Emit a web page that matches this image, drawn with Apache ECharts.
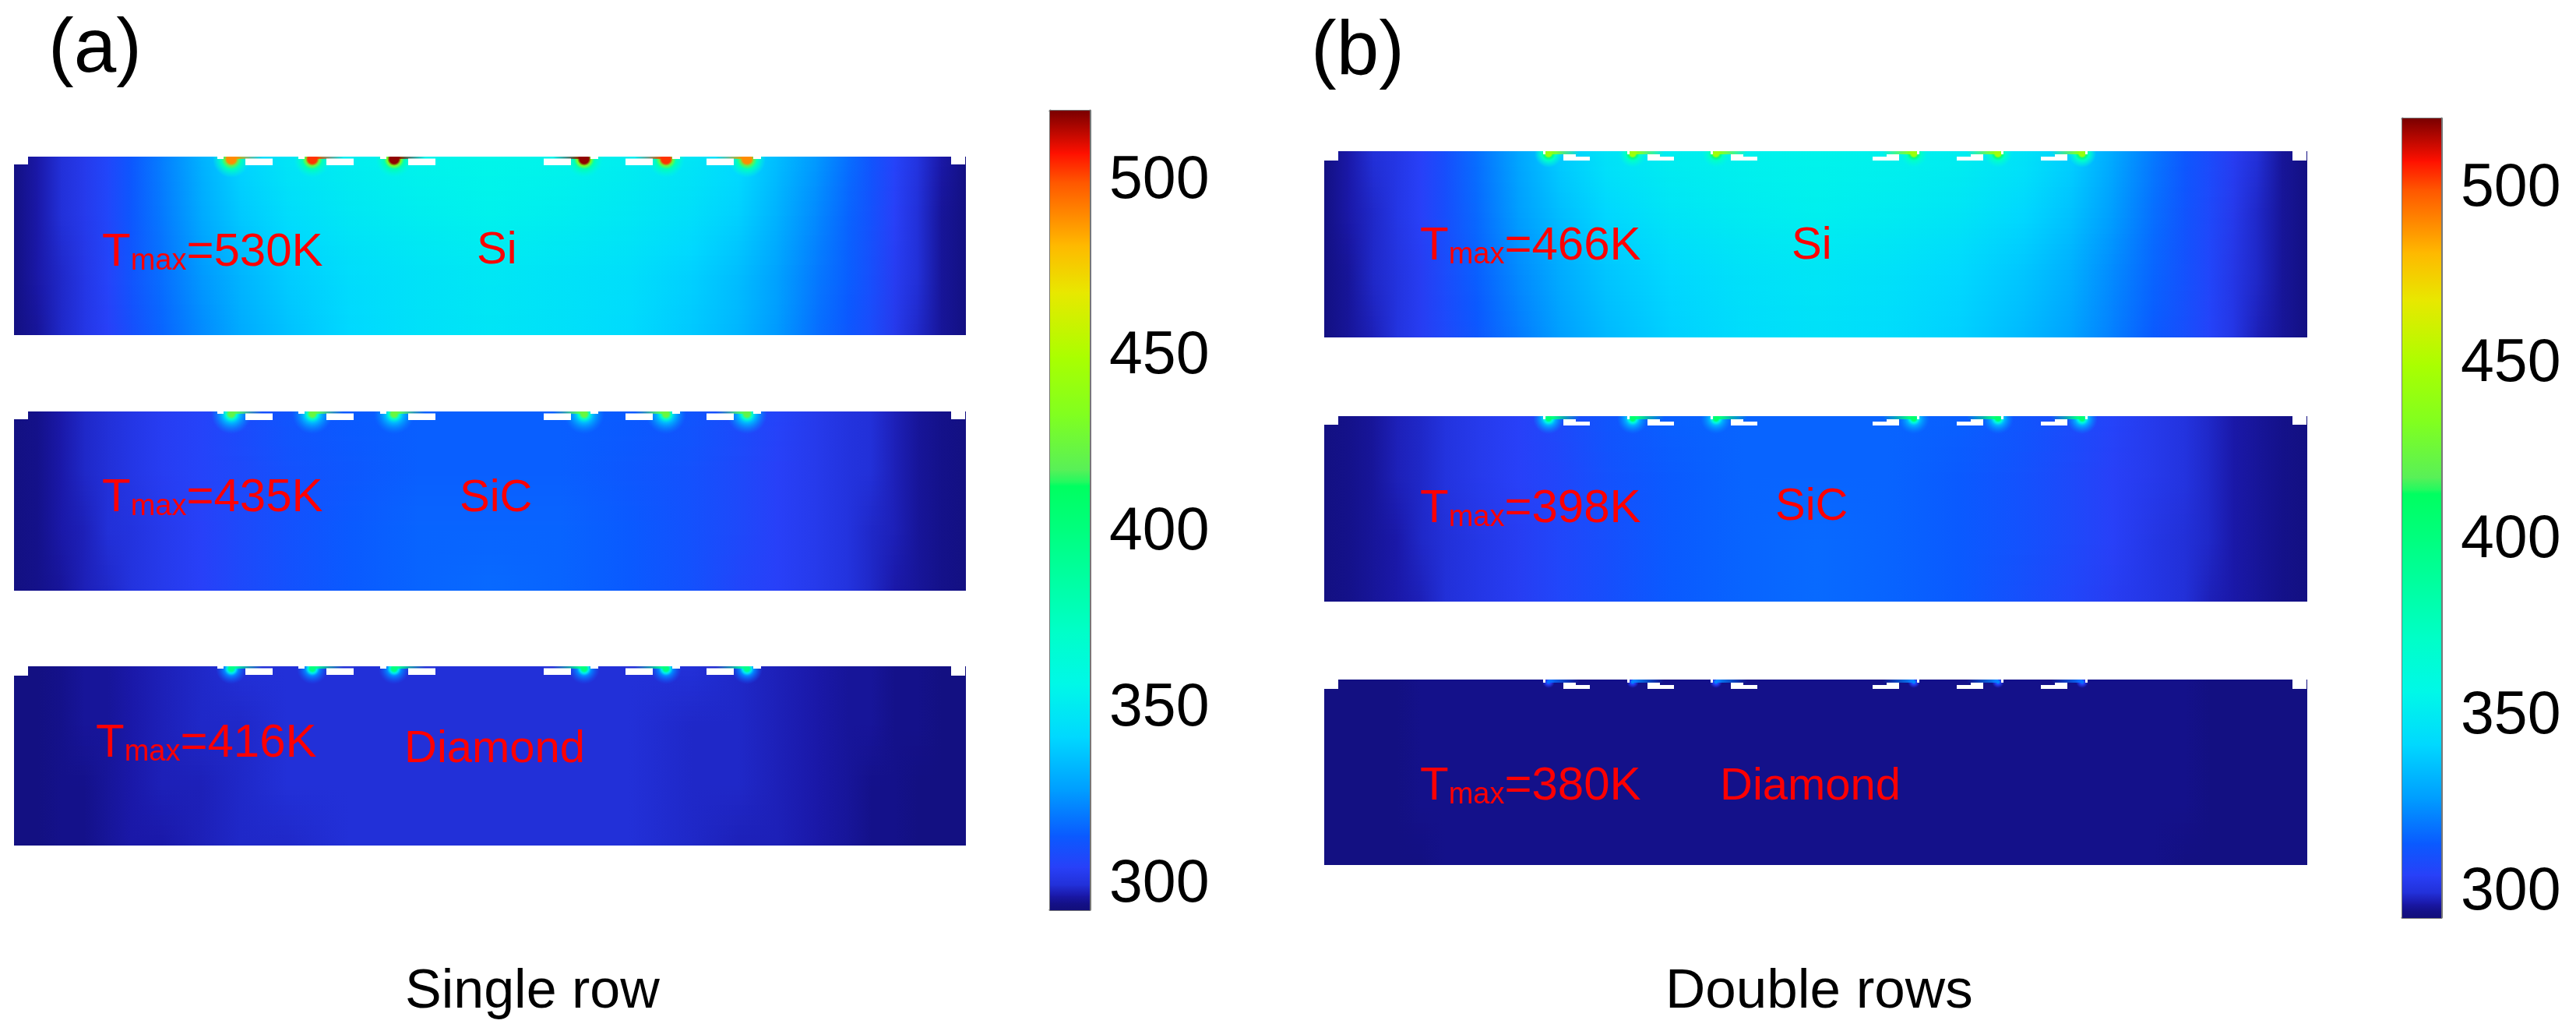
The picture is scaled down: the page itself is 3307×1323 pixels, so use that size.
<!DOCTYPE html>
<html>
<head>
<meta charset="utf-8">
<title>Tmax maps</title>
<script src="https://cdn.jsdelivr.net/npm/echarts@6/dist/echarts.min.js"></script>
<style>
html,body{margin:0;padding:0;background:#fff;}
#main{width:3307px;height:1323px;}
</style>
</head>
<body>
<div id="main"></div>
<script>
// colour scale (K -> colour)
var scaleTemps = [293,295,297,300,305,314,326.6,342,357,372,400,413.5,414.5,418,433.4,450,468.4,482,500,508,520];
var scaleColors = ['#120e7a','#14118a','#1a18a8','#2230d8','#2840f8','#0a5aff','#009cff','#00d8ff','#00f8e8','#00ffc8','#00ff80','#00ff60','#20fa60','#58f058','#80ff20','#aaff00','#e8e800','#ffb800','#ff5500','#ff1000','#7a0000'];
var barTicks = [300,350,400,450,500];

// temperature read at these positions along a section (x of 1221), for 4 depths
var colX = [0,30,60,90,120,150,190,240,290,350,430,520,610,700,790,870,930,980,1030,1070,1100,1130,1160,1190,1221];

var fieldSiSingle = [
	[294,297,300,303,307,313,321,332,341,348,352,355,356,355,352,348,343,335,326,318,312,306,301,297,294],
	[294,297,300,303,307,313,320,330,338,344,349,352,354,352,349,345,340,332,323,316,311,305,300,296,294],
	[294,297,299,302,306,312,318,326,333,339,344,347,349,347,345,340,335,328,320,315,310,304,300,296,294],
	[294,296,299,302,305,310,316,323,330,336,342,346,348,346,343,338,333,326,318,313,309,303,299,296,294]
];
var fieldSicSingle = [
	[294,295,297,299,300,302,304,306,309,312,314,315,315,315,314,312,309,306,303,301,300,298,296,295,294],
	[294,295,297,299,300,302,304,306,308,311,313,315,315,315,313,311,308,305,303,301,300,298,296,295,294],
	[294,295,297,298,300,301,303,305,308,311,314,316,316,316,314,311,308,305,303,301,299,298,296,295,294],
	[294,295,296,298,299,301,303,305,308,311,314,316,317,316,314,311,307,305,303,301,299,297,296,295,294]
];
var fieldDiamondSingle = [
	[294,294,295,296,296,297,298,299,300,300,300,300,300,300,300,300,299,298,297,296,296,295,295,294,294],
	[294,294,295,296,296,297,298,299,299,300,300,300,300,300,300,299,299,298,297,296,296,295,295,294,294],
	[294,294,295,295,296,297,298,298,299,300,300,300,300,300,300,299,299,298,297,296,295,295,294,294,294],
	[294,294,295,295,296,297,297,298,299,299,300,300,300,300,300,299,298,298,297,296,295,295,294,294,294]
];
var fieldSiDouble = [
	[294,297,300,302,305,310,318,329,339,347,352,354,355,354,352,347,340,330,320,313,309,304,300,296,294],
	[294,297,299,302,305,310,317,327,335,342,348,351,353,351,348,342,336,327,318,312,308,303,299,296,294],
	[294,296,299,301,304,309,315,323,330,337,342,346,348,346,342,337,331,323,316,311,307,302,299,296,294],
	[294,296,298,301,304,308,313,320,327,334,340,344,346,344,340,334,328,321,314,310,306,302,298,296,294]
];
var fieldSicDouble = [
	[294,295,296,298,299,301,303,305,308,312,315,316,316,316,315,312,309,306,303,301,299,297,296,295,294],
	[294,295,296,298,299,301,303,305,307,311,314,316,316,316,314,311,308,305,303,301,299,297,296,295,294],
	[294,295,296,297,299,300,302,304,307,310,314,316,317,316,314,311,308,305,302,300,299,297,296,295,294],
	[294,295,296,297,298,300,302,304,307,310,314,316,317,316,314,310,307,304,302,300,298,297,296,295,294]
];
var fieldDiamondDouble = [
	[294,294,294,294,295,295,295,295,295,295,295,295,295,295,295,295,295,295,295,295,294,294,294,294,294],
	[294,294,294,294,295,295,295,295,295,295,295,295,295,295,295,295,295,295,295,295,294,294,294,294,294],
	[294,294,294,294,295,295,295,295,295,295,295,295,295,295,295,295,295,295,295,295,294,294,294,294,294],
	[294,294,294,294,294,295,295,295,295,295,295,295,295,295,295,295,295,295,295,294,294,294,294,294,294]
];

// peak temperature shown at the six hot spots of every section
var peakSiSingle = [490,504,518,518,504,490];
var peakSicSingle = [422,425,425,425,425,422];
var peakDiamondSingle = [395,400,400,400,400,395];
var peakSiDouble = [442,445,445,445,445,442];
var peakSicDouble = [405,408,408,408,408,405];
var peakDiamondDouble = [318,322,322,322,322,318];

// layout, pixels
var devSingle = [279,383,488,732,837,941];
var devDouble = [288,396,503,757,865,973];
var sections = [
	{field:fieldSiSingle,peak:peakSiSingle,dev:devSingle,kind:'single',left:18,top:201,shoulder:211,bottom:429,width:1221,inset:18,glowR:24,glowCore:0.24,glowBase:362,tmax:'530K',tx:131,ty:345,name:'Si',nx:612,ny:342},
	{field:fieldSicSingle,peak:peakSicSingle,dev:devSingle,kind:'single',left:18,top:528,shoulder:538,bottom:757,width:1221,inset:18,glowR:26,glowCore:0.14,glowBase:322,tmax:'435K',tx:131,ty:660,name:'SiC',nx:590,ny:660},
	{field:fieldDiamondSingle,peak:peakDiamondSingle,dev:devSingle,kind:'single',left:18,top:855,shoulder:867,bottom:1084,width:1221,inset:18,glowR:20,glowCore:0.16,glowBase:312,tmax:'416K',tx:123,ty:975,name:'Diamond',nx:519,ny:982},
	{field:fieldSiDouble,peak:peakSiDouble,dev:devDouble,kind:'double',left:1700,top:194,shoulder:206,bottom:432,width:1261,inset:18,glowR:18,glowCore:0.2,glowBase:362,tmax:'466K',tx:1823,ty:337,name:'Si',nx:2300,ny:336},
	{field:fieldSicDouble,peak:peakSicDouble,dev:devDouble,kind:'double',left:1700,top:534,shoulder:545,bottom:771,width:1261,inset:18,glowR:20,glowCore:0.14,glowBase:322,tmax:'398K',tx:1823,ty:674,name:'SiC',nx:2279,ny:671},
	{field:fieldDiamondDouble,peak:peakDiamondDouble,dev:devDouble,kind:'double',left:1700,top:872,shoulder:884,bottom:1109,width:1261,inset:18,glowR:8,glowCore:0.2,glowBase:300,tmax:'380K',tx:1823,ty:1030,name:'Diamond',nx:2208,ny:1030}
];
var bars = [
	{left:1348,top:142,width:51,height:1025},
	{left:3084,top:152,width:50,height:1025}
];

function tempColor(t)
{
	if(t<=scaleTemps[0]) return scaleColors[0];
	for(var i=1;i<scaleTemps.length;i++)
	{
		if(t<=scaleTemps[i])
		{
			var f=(t-scaleTemps[i-1])/(scaleTemps[i]-scaleTemps[i-1]);
			return echarts.color.lerp(f,[scaleColors[i-1],scaleColors[i]]);
		}
	}
	return scaleColors[scaleColors.length-1];
}

// one cell between two read columns and two read depths, shaded smoothly
function renderCell(params,api)
{
	var x0=api.value(0),x1=api.value(1),y0=api.value(2),y1=api.value(3);
	var t00=api.value(4),t10=api.value(5),t01=api.value(6),t11=api.value(7);
	var pa=api.coord([x0,y0]),pb=api.coord([x1,y1]);
	var n=12,kids=[];
	var px0=Math.round(pa[0]),px1=Math.round(pb[0]);
	for(var k=0;k<n;k++)
	{
		var f=(k+0.5)/n;
		var sy0=Math.round(pa[1]+(pb[1]-pa[1])*k/n);
		var sy1=Math.round(pa[1]+(pb[1]-pa[1])*(k+1)/n);
		var l=tempColor(t00+(t01-t00)*f),r=tempColor(t10+(t11-t10)*f);
		kids.push({
			type:'rect',
			shape:{x:px0,y:sy0,width:px1-px0+1,height:sy1-sy0+1},
			style:{fill:new echarts.graphic.LinearGradient(0,0,1,0,[{offset:0,color:l},{offset:1,color:r}])}
		});
	}
	return {type:'group',children:kids};
}

function renderGlow(params,api)
{
	var p=api.coord([api.value(0),api.value(1)]);
	var peak=api.value(2),base=api.value(3),R=api.value(4),core=api.value(5);
	function mix(g){return tempColor(peak+(base-peak)*g);}
	return {
		type:'circle',
		shape:{cx:p[0],cy:p[1],r:R},
		style:{fill:new echarts.graphic.RadialGradient(0.5,0.5,0.5,[
			{offset:0,color:mix(0)},
			{offset:core,color:mix(0)},
			{offset:core+0.13,color:mix(0.55)},
			{offset:core+0.3,color:mix(0.88)},
			{offset:1,color:echarts.color.modifyAlpha(mix(1),0)}
		])}
	};
}

function renderStrip(params,api)
{
	var a=api.coord([api.value(0),api.value(2)]),b=api.coord([api.value(1),api.value(3)]);
	var c=tempColor(api.value(4));
	var fade=echarts.color.modifyAlpha(c,0);
	var toRight=api.value(5)>0;
	return {
		type:'rect',
		shape:{x:a[0],y:a[1],width:b[0]-a[0],height:b[1]-a[1]},
		style:{fill:new echarts.graphic.LinearGradient(0,0,1,0,[
			{offset:0,color:toRight?c:fade},
			{offset:1,color:toRight?fade:c}
		])}
	};
}

function renderWhite(params,api)
{
	var a=api.coord([api.value(0),api.value(2)]),b=api.coord([api.value(1),api.value(3)]);
	return {type:'rect',shape:{x:a[0],y:a[1],width:b[0]-a[0],height:b[1]-a[1]},style:{fill:'#fff'}};
}

function renderBar(params,api)
{
	var a=api.coord([0,api.value(1)]),b=api.coord([1,api.value(0)]);
	return {
		type:'rect',
		shape:{x:a[0],y:a[1],width:b[0]-a[0],height:b[1]-a[1]+1},
		style:{fill:new echarts.graphic.LinearGradient(0,0,0,1,[
			{offset:0,color:tempColor(api.value(1))},
			{offset:1,color:tempColor(api.value(0))}
		])}
	};
}

function plainText(text,x,baseline,size,color)
{
	return {
		type:'text',x:x,y:baseline-0.3465*size,z:100,
		style:{text:text,fill:color,fontFamily:'Liberation Sans',fontSize:size,align:'left',verticalAlign:'middle'}
	};
}

function tmaxText(value,x,baseline)
{
	return {
		type:'text',x:x,y:baseline-50.8,z:100,
		style:{
			text:'{t|T}{s|max}{t|='+value+'}',
			align:'left',verticalAlign:'top',
			rich:{
				t:{fontFamily:'Liberation Sans',fontSize:60,lineHeight:60,verticalAlign:'top',fill:'#ff0000'},
				s:{fontFamily:'Liberation Sans',fontSize:38,lineHeight:38,padding:[32,0,0,0],verticalAlign:'bottom',fill:'#ff0000'}
			}
		}
	};
}

var grids=[],xAxes=[],yAxes=[],seriesList=[],texts=[];

for(var s=0;s<sections.length;s++)
{
	var sec=sections[s];
	var H=sec.bottom-sec.top;
	var idx=grids.length;
	grids.push({left:sec.left,top:sec.top,width:sec.width,height:H});
	xAxes.push({gridIndex:idx,type:'value',min:0,max:sec.width,show:false});
	yAxes.push({gridIndex:idx,type:'value',min:0,max:H,inverse:true,show:false});

	var cells=[];
	for(var r=0;r<sec.field.length-1;r++)
	{
		for(var c=0;c<colX.length-1;c++)
		{
			cells.push([
				colX[c]*sec.width/1221,colX[c+1]*sec.width/1221,
				H*r/(sec.field.length-1),H*(r+1)/(sec.field.length-1),
				sec.field[r][c],sec.field[r][c+1],sec.field[r+1][c],sec.field[r+1][c+1]
			]);
		}
	}
	var glows=[],strips=[];
	var whites=[
		[0,sec.inset,0,sec.shoulder-sec.top],
		[sec.width-sec.inset,sec.width,0,sec.shoulder-sec.top]
	];
	for(var d=0;d<sec.dev.length;d++)
	{
		var hx=sec.dev[d],sign=d<3?1:-1;
		var pk=sec.peak[d];
		glows.push([hx,3,pk,sec.glowBase,sec.glowR,sec.glowCore]);
		if(sec.kind=='single')
		{
			whites.push(sign>0?[hx+18,hx+53,2.5,11]:[hx-52,hx-17,2.5,11]);
			whites.push(sign>0?[hx-18,hx-10,0,3]:[hx+8,hx+18,0,3]);
			strips.push(sign>0?[hx,hx+40,0,3,pk,1]:[hx-40,hx,0,3,pk,-1]);
		}
		else
		{
			whites.push(sign>0?[hx+19,hx+35,4,7]:[hx-35,hx-19,4,7]);
			whites.push(sign>0?[hx+19,hx+53,7,12]:[hx-53,hx-19,7,12]);
			whites.push(sign>0?[hx-7,hx-4,0,4]:[hx+4,hx+7,0,4]);
			strips.push(sign>0?[hx,hx+40,0,4,pk,1]:[hx-40,hx,0,4,pk,-1]);
		}
	}
	seriesList.push({type:'custom',coordinateSystem:'cartesian2d',xAxisIndex:idx,yAxisIndex:idx,z:2,silent:true,animation:false,renderItem:renderCell,data:cells});
	seriesList.push({type:'custom',coordinateSystem:'cartesian2d',xAxisIndex:idx,yAxisIndex:idx,z:3,silent:true,animation:false,clip:true,renderItem:renderGlow,data:glows});
	seriesList.push({type:'custom',coordinateSystem:'cartesian2d',xAxisIndex:idx,yAxisIndex:idx,z:3,silent:true,animation:false,clip:true,renderItem:renderStrip,data:strips});
	seriesList.push({type:'custom',coordinateSystem:'cartesian2d',xAxisIndex:idx,yAxisIndex:idx,z:4,silent:true,animation:false,renderItem:renderWhite,data:whites});

	texts.push(tmaxText(sec.tmax,sec.tx,sec.ty));
	texts.push(plainText(sec.name,sec.nx,sec.ny,58,'#ff0000'));
}

for(var b=0;b<bars.length;b++)
{
	var bar=bars[b];
	var gi=grids.length;
	grids.push({left:bar.left,top:bar.top,width:bar.width,height:bar.height});
	xAxes.push({gridIndex:gi,type:'value',min:0,max:1,show:true,position:'bottom',
		axisLine:{show:true,onZero:false,lineStyle:{color:'#777',width:3}},axisTick:{show:false},axisLabel:{show:false},splitLine:{show:false}});
	xAxes.push({gridIndex:gi,type:'value',min:0,max:1,show:true,position:'top',
		axisLine:{show:true,onZero:false,lineStyle:{color:'#777',width:3}},axisTick:{show:false},axisLabel:{show:false},splitLine:{show:false}});
	yAxes.push({gridIndex:gi,type:'value',min:293,max:520,position:'right',
		axisLine:{show:true,onZero:false,lineStyle:{color:'#777',width:3}},
		axisTick:{show:true,inside:true,length:10,customValues:barTicks,lineStyle:{color:'#222',width:2}},
		axisLabel:{show:true,margin:25,customValues:barTicks,fontFamily:'Liberation Sans',fontSize:77,color:'#000',padding:[16,0,0,0]},
		splitLine:{show:false}});
	yAxes.push({gridIndex:gi,type:'value',min:293,max:520,position:'left',
		axisLine:{show:true,onZero:false,lineStyle:{color:'#777',width:3}},
		axisTick:{show:true,inside:true,length:10,customValues:barTicks,lineStyle:{color:'#222',width:2}},
		axisLabel:{show:false},splitLine:{show:false}});
	var segs=[];
	for(var i=0;i<scaleTemps.length-1;i++) segs.push([scaleTemps[i],scaleTemps[i+1]]);
	seriesList.push({type:'custom',coordinateSystem:'cartesian2d',xAxisIndex:xAxes.length-2,yAxisIndex:yAxes.length-2,z:1,silent:true,animation:false,renderItem:renderBar,data:segs});
}

texts.push(plainText('(a)',62,99,98,'#000'));
texts.push(plainText('(b)',1683,102,98,'#000'));
texts.push(plainText('Single row',520,1298,70,'#000'));
texts.push(plainText('Double rows',2138,1298,71,'#000'));

var mychart=echarts.init(document.getElementById('main'),null,{renderer:'canvas'});
mychart.setOption({
	backgroundColor:'#fff',
	animation:false,
	grid:grids,
	xAxis:xAxes,
	yAxis:yAxes,
	series:seriesList,
	graphic:{elements:texts}
});
</script>
</body>
</html>
